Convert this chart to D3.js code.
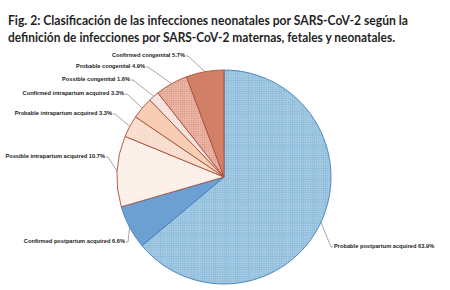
<!DOCTYPE html>
<html>
<head>
<meta charset="utf-8">
<script src="https://cdn.jsdelivr.net/npm/d3@7"></script>
<style>
  body { margin: 0; background: #fff; }
</style>
</head>
<body>
<script>
// Chart data
const titleLines = [
  'Fig. 2: Clasificación de las infecciones neonatales por SARS-CoV-2 según la',
  'definición de infecciones por SARS-CoV-2 maternas, fetales y neonatales.'
];
const categories = [
  'Probable postpartum acquired',
  'Confirmed postpartum acquired',
  'Possible intrapartum acquired',
  'Probable intrapartum acquired',
  'Confirmed intrapartum acquired',
  'Possible congenital',
  'Probable congenital',
  'Confirmed congenital'
];
const values = [63.9, 6.6, 10.7, 3.3, 3.3, 1.6, 4.9, 5.7];

// Styling per slice (fill or pattern id, stroke)
const fills = ['url(#pPostProb)', '#6c9fd2', 'url(#pIntraPoss)', 'url(#pIntraProb)', '#f7cdb3', 'url(#pCongPoss)', 'url(#pCongProb)', '#d27f68'];
const strokes = ['#3f7fbd', '#3f7fbd', '#a9503b', '#a9503b', '#a9503b', '#a9503b', '#a9503b', '#a9503b'];
// Where each label's text sits: [x, y, anchor]
const labelPos = [
  [334, 248, 'start'],
  [125, 243, 'end'],
  [105, 158, 'end'],
  [112, 115, 'end'],
  [124, 95, 'end'],
  [130, 81, 'end'],
  [145, 68, 'end'],
  [185, 57, 'end']
];

const width = 450, height = 290;
const cx = 224, cy = 177, radius = 107;

const svg = d3.select('body')
  .append('svg')
  .attr('width', width)
  .attr('height', height);

// Patterns
const defs = svg.append('defs');

function gridPattern(id, bg, line, size) {
  const p = defs.append('pattern')
    .attr('id', id)
    .attr('patternUnits', 'userSpaceOnUse')
    .attr('width', size)
    .attr('height', size);
  p.append('rect').attr('width', size).attr('height', size).attr('fill', bg);
  p.append('path')
    .attr('d', `M0,0.5H${size}M0.5,0V${size}`)
    .attr('stroke', line)
    .attr('stroke-width', 0.6);
}
function dotPattern(id, bg, dot, size) {
  const p = defs.append('pattern')
    .attr('id', id)
    .attr('patternUnits', 'userSpaceOnUse')
    .attr('width', size)
    .attr('height', size);
  p.append('rect').attr('width', size).attr('height', size).attr('fill', bg);
  p.append('rect').attr('x', 0).attr('y', 0).attr('width', 0.7).attr('height', 0.7).attr('fill', dot);
}

gridPattern('pPostProb', '#aed2e7', '#86b6d6', 2.2);
gridPattern('pCongProb', '#efc3b3', '#dc9683', 2.2);
dotPattern('pIntraPoss', '#fdf2ec', '#f5dfd4', 2);
dotPattern('pIntraProb', '#fae0d1', '#f3cdb9', 2);
dotPattern('pCongPoss', '#f7e7e2', '#e9c9bf', 2);

// Title
svg.append('g')
  .selectAll('text')
  .data(titleLines)
  .enter()
  .append('text')
  .attr('x', 8)
  .attr('y', (d, i) => 25 + i * 17)
  .attr('textLength', (d, i) => i === 0 ? 400 : 387)
  .attr('lengthAdjust', 'spacingAndGlyphs')
  .style('font-family', 'Lato, "Open Sans", sans-serif')
  .style('font-weight', 700)
  .style('font-size', '12.5px')
  .style('fill', '#1f1f1f')
  .text(d => d);

// Pie
const pie = d3.pie().sort(null).value(d => d);
const arcs = pie(values);
const arc = d3.arc().innerRadius(0).outerRadius(radius);

const chart = svg.append('g')
  .attr('transform', `translate(${cx},${cy})`);

chart.selectAll('path.slice')
  .data(arcs)
  .enter()
  .append('path')
  .attr('class', 'slice')
  .attr('d', arc)
  .attr('fill', (d, i) => fills[i])
  .attr('stroke', (d, i) => strokes[i])
  .attr('stroke-width', 0.9)
  .attr('stroke-linejoin', 'round');

// Leader lines
const edge = d3.arc().innerRadius(radius).outerRadius(radius);
svg.append('g')
  .selectAll('path')
  .data(arcs)
  .enter()
  .append('path')
  .attr('fill', 'none')
  .attr('stroke', '#6b6b6b')
  .attr('stroke-width', 0.6)
  .attr('d', (d, i) => {
    const [ex, ey] = edge.centroid(d);
    const [lx, ly, anchor] = labelPos[i];
    const sx = anchor === 'end' ? lx + 1 : lx - 1;
    const kx = anchor === 'end' ? sx + 2 : sx - 2;
    return `M${sx},${ly - 1}L${kx},${ly - 1}L${cx + ex},${cy + ey}`;
  });

// Labels
svg.append('g')
  .selectAll('text')
  .data(arcs)
  .enter()
  .append('text')
  .attr('x', (d, i) => labelPos[i][0])
  .attr('y', (d, i) => labelPos[i][1])
  .attr('text-anchor', (d, i) => labelPos[i][2])
  .style('font-family', '"Liberation Sans", Arial, sans-serif')
  .style('font-weight', 700)
  .style('font-size', '5.7px')
  .style('fill', '#222')
  .text((d, i) => `${categories[i]} ${values[i]}%`);
</script>
</body>
</html>
